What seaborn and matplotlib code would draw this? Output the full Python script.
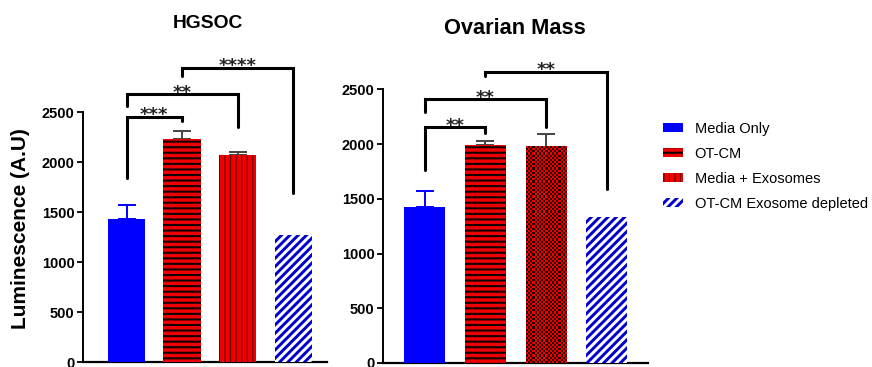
import numpy as np
import matplotlib
matplotlib.use("Agg")
import matplotlib.pyplot as plt
import seaborn as sns
from matplotlib.patches import Patch
from matplotlib.colors import ListedColormap

# ---------------- data ----------------
groups = ["Media Only", "OT-CM", "Media + Exosomes", "OT-CM Exosome depleted"]
hgsoc_mean = [1430, 2235, 2075, 1270]
hgsoc_err = [145, 80, 28, 0]
ovarian_mean = [1425, 1990, 1975, 1335]
ovarian_err = [145, 40, 120, 0]
y_ticks = [0, 500, 1000, 1500, 2000, 2500]
# significance brackets: (bar i, bar j, line level, left end, right end, label)
hgsoc_sig = [(0, 1, 2453, 1837, 2413, "***"),
             (0, 2, 2677, 2560, 2353, "**"),
             (1, 3, 2943, 2860, 1693, "****")]
ovarian_sig = [(0, 1, 2152, 1763, 2103, "**"),
               (0, 2, 2411, 2289, 2158, "**"),
               (1, 3, 2660, 2621, 1589, "**")]

sns.set_theme(style="white")
plt.rcParams['font.family'] = ['Liberation Sans', 'DejaVu Sans']
plt.rcParams['text.color'] = 'black'
plt.rcParams['axes.labelcolor'] = 'black'
plt.rcParams['ytick.color'] = 'black'
plt.rcParams['xtick.color'] = 'black'

W, H = 872, 367
fig = plt.figure(figsize=(W / 100, H / 100), dpi=100)

BLUE = "#0000ff"
RED = "#ee0000"
STRIPE_BLUE = "#0000cc"
ERR = "#444444"
ERR_COLORS = [BLUE, ERR, ERR, ERR]
DIAG = "////"
HATCH_LW = {"---": 1.5, "|||": 0.8, DIAG: 2.1}


def with_hatch_lw(artist, lw):
    if hasattr(artist, "set_hatch_linewidth"):
        artist.set_hatch_linewidth(lw)
    if hasattr(artist, "_hatch_linewidth"):
        artist._hatch_linewidth = lw
    orig = artist.draw

    def draw(renderer, _orig=orig, _lw=lw):
        with plt.rc_context({"hatch.linewidth": _lw}):
            _orig(renderer)
    artist.draw = draw


def style_bars(ax, checker=False):
    b0, b1, b2, b3 = ax.patches[:4]
    b0.set_facecolor(BLUE); b0.set_edgecolor(BLUE); b0.set_linewidth(0)
    b1.set_facecolor(RED); b1.set_edgecolor("#140000"); b1.set_linewidth(0)
    b1.set_hatch("---")
    with_hatch_lw(b1, HATCH_LW["---"])
    b2.set_facecolor(RED); b2.set_linewidth(0)
    if not checker:
        b2.set_edgecolor("#6a0000")
        b2.set_hatch("|||")
        with_hatch_lw(b2, HATCH_LW["|||"])
    b3.set_facecolor("white"); b3.set_edgecolor(STRIPE_BLUE); b3.set_linewidth(0)
    b3.set_hatch(DIAG)
    with_hatch_lw(b3, HATCH_LW[DIAG])
    return [b0, b1, b2, b3]


def add_checker(ax, bar):
    x0, w, h = bar.get_x(), bar.get_width(), bar.get_height()
    p0 = ax.transData.transform((x0, 0))
    p1 = ax.transData.transform((x0 + w, h))
    pw, ph = abs(p1[0] - p0[0]), abs(p1[1] - p0[1])
    nx = 19
    ny = int(round(nx * ph / pw))
    grid = np.add.outer(np.arange(ny), np.arange(nx)) % 2
    ax.imshow(grid, cmap=ListedColormap([RED, "#2a0000"]), extent=(x0, x0 + w, 0, h),
              aspect="auto", interpolation="nearest", origin="lower",
              clip_path=bar, zorder=bar.get_zorder() + 0.1)


def panel(rect, means, errs, sig, ylim, xlim, checker=False):
    ax = fig.add_axes(rect)
    sns.barplot(x=groups, y=means, hue=groups, order=groups, hue_order=groups,
                palette=[BLUE, RED, RED, "white"], width=0.67, errorbar=None,
                legend=False, ax=ax, zorder=3)
    bars = style_bars(ax, checker)
    xs = np.arange(len(groups))
    for k in range(len(groups)):
        if errs[k] > 0:
            ax.errorbar([xs[k]], [means[k]], yerr=[[0], [errs[k]]], fmt="none",
                        ecolor=ERR_COLORS[k], elinewidth=1.4, capsize=6.8,
                        capthick=1.4, zorder=2)
    ax.set_ylim(*ylim)
    ax.set_xlim(*xlim)
    ax.set_xticks([])
    ax.set_yticks(y_ticks)
    ax.set_yticklabels([str(t) for t in y_ticks], fontsize=10.5, fontweight="bold",
                       color="black")
    ax.tick_params(axis="y", length=4.5, width=1.3, pad=1.5, colors="black", left=True)
    for s in ("top", "right"):
        ax.spines[s].set_visible(False)
    ax.spines["left"].set_bounds(0, 2500)
    ax.spines["left"].set_linewidth(1.4)
    ax.spines["bottom"].set_linewidth(1.6)
    ax.spines["left"].set_color("black")
    ax.spines["bottom"].set_color("black")
    ax.set_xlabel("")
    ax.set_ylabel("")
    if checker:
        add_checker(ax, bars[2])
    for i, j, yh, yl, yr, lab in sig:
        ax.plot([xs[i], xs[i], xs[j], xs[j]], [yl, yh, yh, yr], color="black",
                lw=2.2, clip_on=False, solid_joinstyle="miter", zorder=5)
        ax.annotate(lab, xy=((xs[i] + xs[j]) / 2, yh), xytext=(0, -5.5),
                    textcoords="offset points", ha="center", va="bottom",
                    fontsize=13, fontweight="bold", family="DejaVu Sans",
                    color="#222222")
    return ax


ax1 = panel([83 / W, 5 / H, 244 / W, 322 / H], hgsoc_mean, hgsoc_err, hgsoc_sig,
            (0, 3220), (-0.784, 3.61))
ax2 = panel([383 / W, 4 / H, 265 / W, 323 / H], ovarian_mean, ovarian_err, ovarian_sig,
            (0, 2950), (-0.684, 3.68), checker=True)

fig.text(208 / W, 1 - 23 / H, "HGSOC", ha="center", va="center",
         fontsize=13.9, fontweight="bold", color="black")
fig.text(515 / W, 1 - 28 / H, "Ovarian Mass", ha="center", va="center",
         fontsize=15.7, fontweight="bold", color="black")
fig.text(21 / W, 1 - 229 / H, "Luminescence (A.U)", ha="center", va="center",
         rotation=90, fontsize=15, fontweight="bold", color="black")

# legend
handles = [
    Patch(facecolor=BLUE, edgecolor=BLUE, linewidth=0),
    Patch(facecolor=RED, edgecolor="#140000", linewidth=0, hatch="---"),
    Patch(facecolor=RED, edgecolor="#6a0000", linewidth=0, hatch="|||"),
    Patch(facecolor="white", edgecolor=STRIPE_BLUE, linewidth=0, hatch=DIAG),
]
leg = fig.legend(handles, groups, loc="upper left",
                 bbox_to_anchor=(663 / W, 1 - 122 / H),
                 frameon=False, fontsize=10.5, handlelength=1.37, handleheight=0.55,
                 handletextpad=0.8, labelspacing=0.75, borderpad=0, borderaxespad=0,
                 labelcolor="black")
for p in leg.get_patches():
    h = p.get_hatch()
    if h in HATCH_LW:
        with_hatch_lw(p, HATCH_LW[h])

fig.savefig("out.png", dpi=100)
